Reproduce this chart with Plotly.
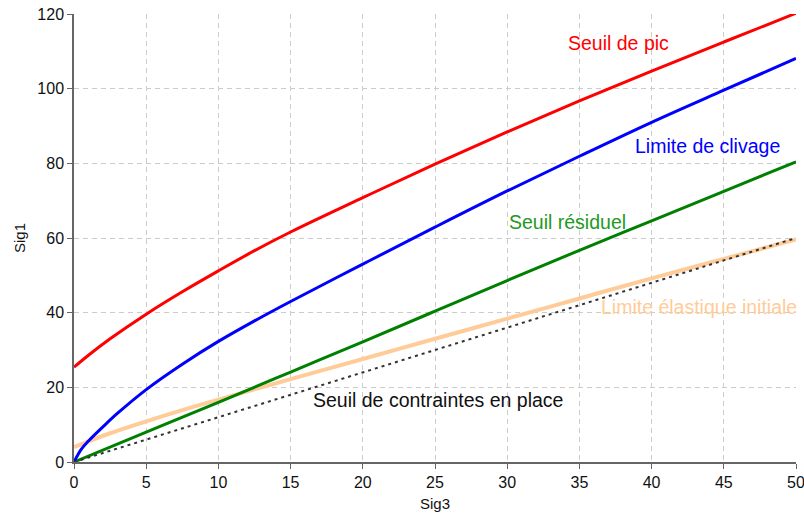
import plotly.graph_objects as go

# Sig3 sample positions for each curve and Sig1 values
sig3_pic = [0, 1, 2.5, 5, 7.5, 10, 12.5, 15, 20, 25, 30, 35, 40, 45, 50]
sig1_pic = [25.4, 28.6, 33.0, 39.6, 45.6, 51.2, 56.6, 61.6, 70.8, 79.8, 88.4, 96.7, 104.7, 112.5, 120.2]

sig3_cliv = [0, 0.5, 1, 2, 3, 5, 7.5, 10, 12.5, 15, 20, 25, 30, 35, 40, 45, 50]
sig1_cliv = [0, 3.4, 5.6, 9.4, 13.0, 19.4, 26.2, 32.3, 37.8, 43.0, 53.0, 62.9, 72.6, 81.9, 91.0, 99.6, 108.1]

sig3_res = [0, 5, 10, 15, 20, 25, 30, 35, 40, 45, 50]
sig1_res = [0, 8.0, 16.0, 24.1, 32.2, 40.4, 48.6, 56.7, 64.6, 72.5, 80.4]

sig3_elas = [0, 1, 2.5, 5, 7.5, 10, 15, 20, 25, 30, 35, 40, 45, 50]
sig1_elas = [4.0, 5.5, 7.7, 10.9, 13.9, 16.7, 22.2, 27.6, 33.0, 38.4, 43.8, 49.2, 54.4, 59.6]

sig3_place = [0, 50]
sig1_place = [0, 60]

x_ticks = [0, 5, 10, 15, 20, 25, 30, 35, 40, 45, 50]
y_ticks = [0, 20, 40, 60, 80, 100, 120]

FONT = "Liberation Sans, Arial, sans-serif"

fig = go.Figure()
fig.add_trace(go.Scatter(x=sig3_elas, y=sig1_elas, mode="lines", line=dict(color="#FFCC99", width=4, shape="spline"), name="Limite élastique initiale"))
fig.add_trace(go.Scatter(x=sig3_res, y=sig1_res, mode="lines", line=dict(color="#008000", width=3, shape="spline"), name="Seuil résiduel"))
fig.add_trace(go.Scatter(x=sig3_cliv, y=sig1_cliv, mode="lines", line=dict(color="#0000FF", width=3, shape="spline"), name="Limite de clivage"))
fig.add_trace(go.Scatter(x=sig3_pic, y=sig1_pic, mode="lines", line=dict(color="#FF0000", width=3, shape="spline"), name="Seuil de pic"))
fig.add_trace(go.Scatter(x=sig3_place, y=sig1_place, mode="lines", line=dict(color="#333333", width=2, dash="3px,4px"), name="Seuil de contraintes en place"))

labels = [
    ("Seuil de pic", 37.7, 112.2, "#FF0000"),
    ("Limite de clivage", 43.9, 84.7, "#0000FF"),
    ("Seuil résiduel", 34.2, 64.3, "#229922"),
    ("Limite élastique initiale", 43.3, 41.5, "#FFCC99"),
    ("Seuil de contraintes en place", 25.2, 16.6, "#111111"),
]
for text, lx, ly, col in labels:
    fig.add_annotation(x=lx, y=ly, xref="x", yref="y", text=text, showarrow=False,
                       font=dict(family=FONT, size=19.5, color=col))

axis_common = dict(
    showline=True, linecolor="#666666", linewidth=1.5,
    ticks="outside", ticklen=5, tickcolor="#666666", tickwidth=1,
    showgrid=True, gridcolor="#CCCCCC", gridwidth=1, griddash="5px,4px",
    zeroline=False, tickfont=dict(family=FONT, size=16, color="#111111"),
    title_font=dict(family=FONT, size=15, color="#111111"),
    automargin=False, ticklabeloverflow="allow",
)

fig.update_layout(
    width=804, height=514,
    margin=dict(l=74, r=8, t=14, b=52),
    paper_bgcolor="white", plot_bgcolor="white",
    showlegend=False,
    xaxis=dict(range=[0, 50], tickvals=x_ticks, title=dict(text="Sig3", standoff=9), **axis_common),
    yaxis=dict(range=[0, 120], tickvals=y_ticks, title=dict(text="Sig1", standoff=8), **axis_common),
)

fig.write_html("out.html", config={"displayModeBar": False},
               post_script="document.body.style.margin='0';document.body.style.overflow='hidden';")
